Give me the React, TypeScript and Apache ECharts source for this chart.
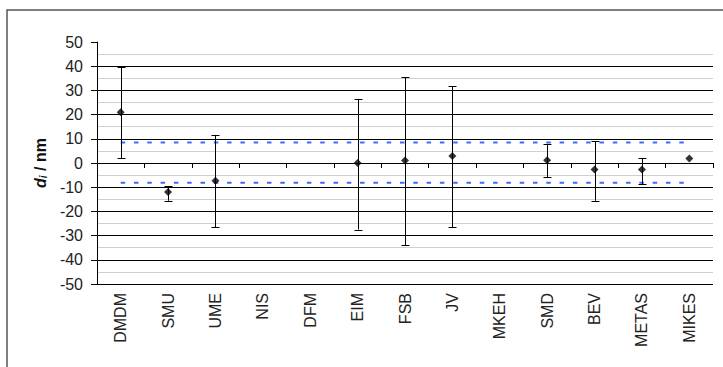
import React, { useEffect, useRef } from "react";
import * as echarts from "echarts";

const categories = ["DMDM", "SMU", "UME", "NIS", "DFM", "EIM", "FSB", "JV", "MKEH", "SMD", "BEV", "METAS", "MIKES"];
const values: (number | null)[] = [21, -12, -7.3, null, null, 0, 1, 2.9, null, 1.1, -2.7, -2.7, 1.9];
const lowerBounds: (number | null)[] = [2.1, -15.6, -26.5, null, null, -27.5, -34, -26.5, null, -5.8, -15.6, -8.8, null];
const upperBounds: (number | null)[] = [39.7, -9.5, 11.6, null, null, 26.5, 35.5, 31.8, null, 7.9, 8.9, 2.1, null];
const upperLimit = 8.5;
const lowerLimit = -8.2;
const yMin = -50;
const yMax = 50;
const yInterval = 10;

const FONT = "'Liberation Sans', Arial, sans-serif";

export default function App() {
  const ref = useRef<HTMLDivElement>(null);
  useEffect(() => {
    if (!ref.current) return;
    const chart = echarts.init(ref.current, null, { renderer: "svg" });
    const errData: any[] = [];
    categories.forEach((c, i) => {
      if (lowerBounds[i] != null && upperBounds[i] != null) {
        errData.push([i, lowerBounds[i], upperBounds[i]]);
      }
    });
    chart.setOption({
      animation: false,
      backgroundColor: "#fff",
      graphic: [
        {
          type: "rect",
          shape: { x: 7, y: 10, width: 800, height: 400 },
          style: { fill: "none", stroke: "#555", lineWidth: 1.5 },
          silent: true,
          z: 100,
        },
      ],
      grid: { left: 97, top: 42, right: 10, bottom: 83, containLabel: false },
      xAxis: {
        type: "category",
        data: categories,
        boundaryGap: true,
        axisLine: { lineStyle: { color: "#000", width: 1 } },
        axisTick: { show: true, length: 5, alignWithLabel: false, lineStyle: { color: "#000" } },
        axisLabel: { rotate: 90, margin: 9, fontSize: 16, fontFamily: FONT, color: "#222", interval: 0 },
        splitLine: { show: false },
      },
      yAxis: {
        type: "value",
        min: yMin,
        max: yMax,
        interval: yInterval,
        name: "{d|d}{i|i}{r| / nm}",
        nameLocation: "middle",
        nameRotate: 90,
        nameGap: 49,
        nameTextStyle: {
          rich: {
            d: { fontStyle: "italic", fontWeight: "bold", fontSize: 16, fontFamily: FONT, color: "#111" },
            i: { fontStyle: "italic", fontWeight: "bold", fontSize: 10, fontFamily: FONT, color: "#111", verticalAlign: "bottom", padding: [6, 0, 0, 0] },
            r: { fontWeight: "bold", fontSize: 16, fontFamily: FONT, color: "#111" },
          },
        },
        axisLine: { show: true, lineStyle: { color: "#000", width: 1 } },
        axisTick: { show: true, inside: false, length: 6, lineStyle: { color: "#000" } },
        axisLabel: { margin: 14, fontSize: 16, fontFamily: FONT, color: "#222" },
        splitLine: { show: true, showMaxLine: false, lineStyle: { color: "#000", width: 1 } },
        minorTick: { show: false, splitNumber: 2 },
        minorSplitLine: { show: true, lineStyle: { color: "#cfcfcf", width: 1 } },
      },
      series: [
        {
          type: "line",
          data: categories.map(() => upperLimit),
          symbol: "none",
          lineStyle: { color: "#3a6cff", width: 2, type: [4.5, 8.8] },
          z: 3,
          silent: true,
        },
        {
          type: "line",
          data: categories.map(() => lowerLimit),
          symbol: "none",
          lineStyle: { color: "#3a6cff", width: 2, type: [4.5, 8.8] },
          z: 3,
          silent: true,
        },
        {
          type: "custom",
          data: errData,
          z: 4,
          renderItem: (params: any, api: any) => {
            const x = api.value(0);
            const lo = api.coord([x, api.value(1)]);
            const hi = api.coord([x, api.value(2)]);
            const cx = Math.round(lo[0]) + 0.5;
            const hw = 4;
            const st = { stroke: "#000", lineWidth: 1 };
            return {
              type: "group",
              children: [
                { type: "line", shape: { x1: cx, y1: hi[1], x2: cx, y2: lo[1] }, style: st },
                { type: "line", shape: { x1: cx - hw, y1: Math.round(hi[1]) + 0.5, x2: cx + hw, y2: Math.round(hi[1]) + 0.5 }, style: st },
                { type: "line", shape: { x1: cx - hw, y1: Math.round(lo[1]) + 0.5, x2: cx + hw, y2: Math.round(lo[1]) + 0.5 }, style: st },
              ],
            };
          },
        },
        {
          type: "scatter",
          data: values,
          symbol: "diamond",
          symbolSize: 8,
          itemStyle: { color: "#000" },
          z: 5,
        },
      ],
    });
    return () => chart.dispose();
  }, []);
  return <div ref={ref} style={{ position: "absolute", left: 0, top: 0, width: 723, height: 367 }} />;
}
